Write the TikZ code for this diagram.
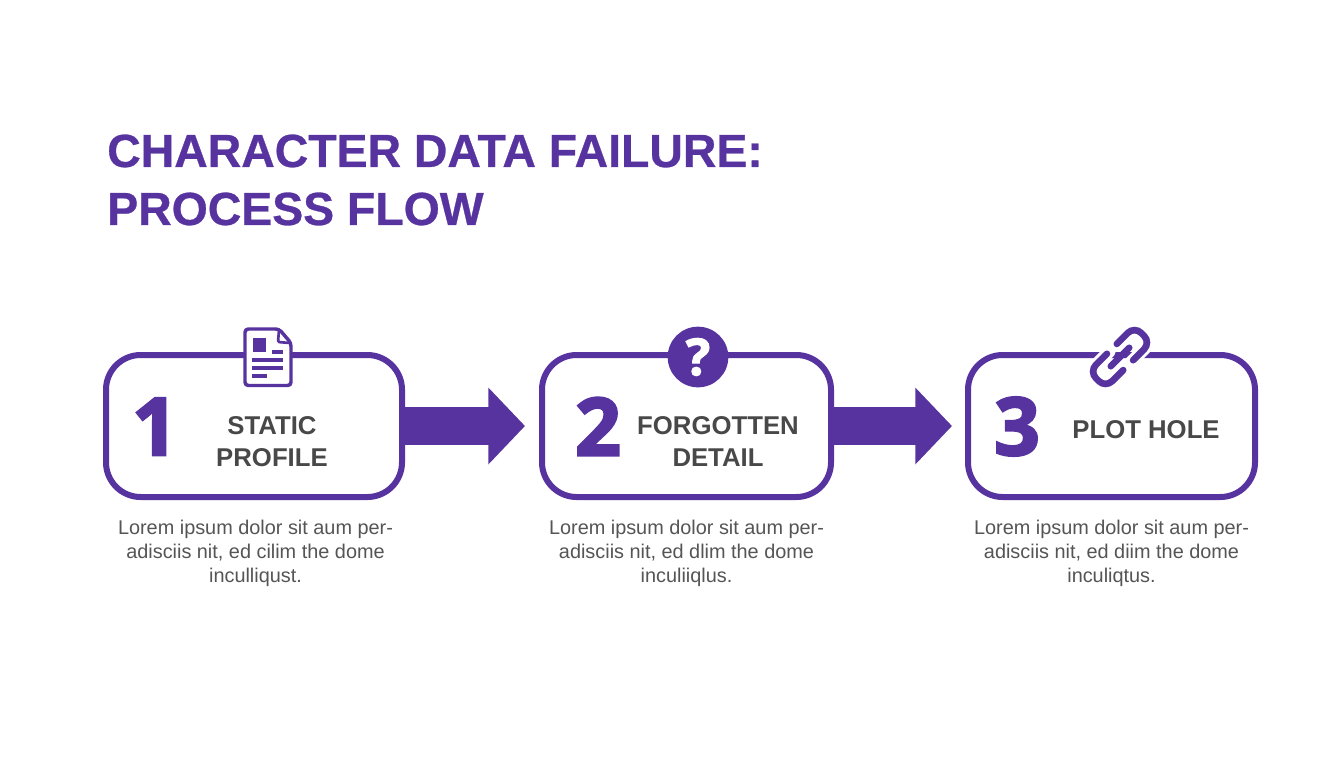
\documentclass[tikz,border=0pt]{standalone}
\usepackage{fontspec}
\setmainfont{Liberation Sans}
\newfontfamily\numfont[FakeBold=3]{Open Sans Bold}
\newfontfamily\qfont[FakeBold=2.5]{Open Sans Bold}
\newfontfamily\titlefont[FakeBold=0.6]{Liberation Sans Bold}
\usetikzlibrary{arrows.meta}
\definecolor{flowpurple}{HTML}{5733A0}
\definecolor{labelgrey}{HTML}{484848}
\definecolor{bodygrey}{HTML}{555555}
\tikzset{
  stepbox/.style={draw=flowpurple, line width=4.5pt, fill=white, rounded corners=26pt, minimum height=106.5pt},
  flowarrow/.style={draw=flowpurple, line width=28pt, -{Triangle[length=27.5pt, width=56pt]}},
  bignum/.style={text=flowpurple, font=\numfont\fontsize{60}{60}\selectfont, inner sep=0pt},
  steplabel/.style={text=labelgrey, align=center, inner sep=0pt, font=\bfseries\fontsize{19.3}{24}\selectfont},
  stepbody/.style={text=bodygrey, align=center, inner sep=0pt, font=\fontsize{14.9}{18}\selectfont},
  iconline/.style={draw=flowpurple, line width=2.6pt},
  linkline/.style={draw=flowpurple, line width=5pt, line cap=round, rounded corners=7pt},
  linkhalo/.style={draw=white, line width=9.5pt, line cap=round, rounded corners=7pt}
}
\begin{document}
\begin{tikzpicture}[x=0.75pt, y=-0.75pt]
  \useasboundingbox[fill=white] (0,0) rectangle (1344,768);
  \node[text=flowpurple, align=left, anchor=west, inner sep=0pt, font=\titlefont\fontsize{34.8}{43.5}\selectfont] (title) at (107,180) {CHARACTER DATA FAILURE:\\PROCESS FLOW};

  \node[stepbox, minimum width=222pt] (box1) at (254,426) {};
  \node[stepbox, minimum width=216.75pt] (box2) at (686.5,426) {};
  \node[stepbox, minimum width=215.25pt] (box3) at (1111.5,426) {};

  \coordinate (tip1) at (525,426);
  \coordinate (tip2) at (952,426);
  \draw[flowarrow] (box1.east) -- (tip1);
  \draw[flowarrow] (box2.east) -- (tip2);

  \node[bignum] (num1) at (155,426.5) {1};
  \node[bignum] (num2) at (598,426.5) {2};
  \node[bignum] (num3) at (1017,426.5) {3};

  \node[steplabel] (label1) at (272,442) {STATIC\\PROFILE};
  \node[steplabel] (label2) at (718,442) {FORGOTTEN\\DETAIL};
  \node[steplabel] (label3) at (1146,430) {PLOT HOLE};

  \node[stepbody] (body1) at (255.5,553) {Lorem ipsum dolor sit aum per-\\adisciis nit, ed cilim the dome\\inculliqust.};
  \node[stepbody] (body2) at (686.5,553) {Lorem ipsum dolor sit aum per-\\adisciis nit, ed dlim the dome\\inculiiqlus.};
  \node[stepbody] (body3) at (1111.5,553) {Lorem ipsum dolor sit aum per-\\adisciis nit, ed diim the dome\\inculiqtus.};

  \draw[iconline, fill=white, rounded corners=2.5pt] (245,329) -- (279,329) -- (291,343) -- (291,385.5) -- (245,385.5) -- cycle;
  \draw[iconline, line width=2pt, rounded corners=1pt] (279,330) -- (278,342) -- (290,343);
  \fill[flowpurple] (253,338) rectangle (266,352);
  \draw[iconline] (272,352) -- (283,352);
  \draw[iconline] (252,360) -- (283,360);
  \draw[iconline] (252,368) -- (283,368);
  \draw[iconline] (252,376) -- (267,376);

  \node[circle, fill=flowpurple, minimum size=45.5pt, inner sep=0pt] (qmark) at (698,357) {};
  \node[text=white, inner sep=0pt, font=\qfont\fontsize{38}{38}\selectfont] (qmarktext) at (qmark) {?};

  \begin{scope}[shift={(1120,357)}, rotate=45]
    \draw[linkhalo] (4,11.5) -- (32,11.5) -- (32,-11.5) -- (4,-11.5);
    \draw[linkhalo] (-4,11.5) -- (-32,11.5) -- (-32,-11.5) -- (-4,-11.5);
    \draw[linkline] (7,11.5) -- (32,11.5) -- (32,-11.5) -- (7,-11.5);
    \draw[linkline] (-7,11.5) -- (-32,11.5) -- (-32,-11.5) -- (-7,-11.5);
    \draw[linkline] (-13,0) -- (13,0);
  \end{scope}
\end{tikzpicture}
\end{document}
